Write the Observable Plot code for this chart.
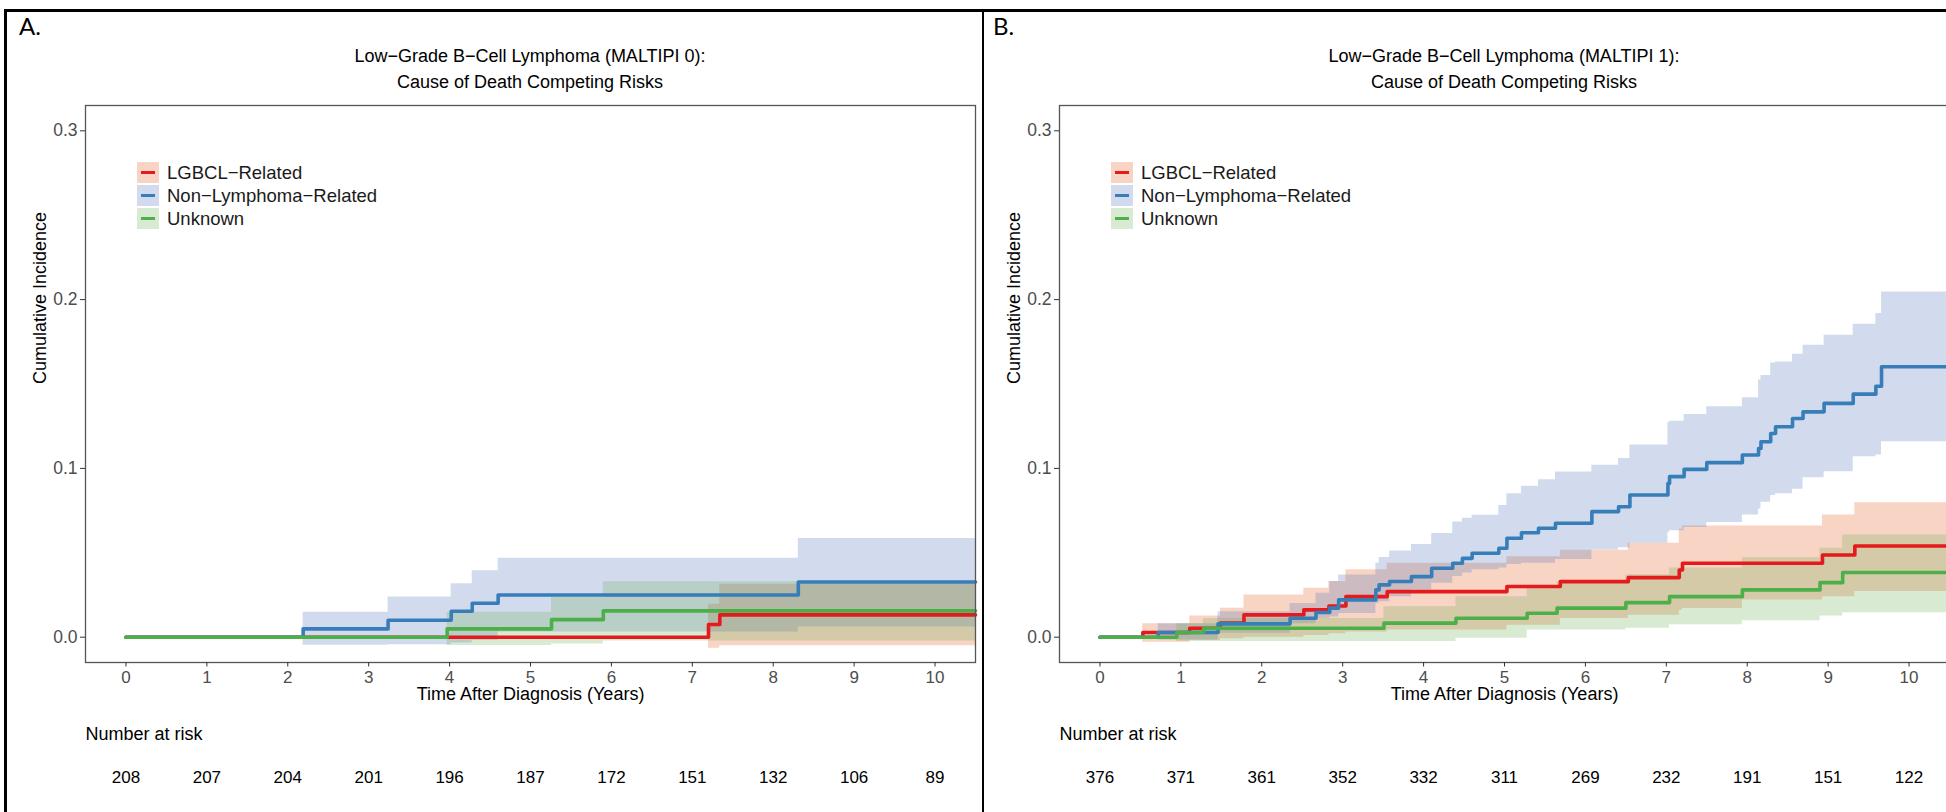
<!DOCTYPE html>
<html><head><meta charset="utf-8">
<script src="https://cdn.jsdelivr.net/npm/d3@7"></script>
<script src="https://cdn.jsdelivr.net/npm/@observablehq/plot@0.6"></script>
<style>
html,body{margin:0;padding:0;background:#fff;}
body{width:1946px;height:812px;overflow:hidden;position:relative;font-family:"Liberation Sans",Arial,sans-serif;}
.panel{position:absolute;top:0;width:983px;height:812px;}
.title{position:absolute;left:85px;width:890px;top:43px;text-align:center;font-size:18px;line-height:26px;color:#000;}
.tag{position:absolute;left:19px;top:11px;font-family:Lato,"Open Sans",sans-serif;font-size:24px;color:#000;}
.chart{position:absolute;left:0;top:95px;}
.legend{position:absolute;left:137px;top:162px;}
.li{height:23px;position:relative;}
.sw{position:absolute;left:0;top:0;width:22px;height:21px;}
.sw i{position:absolute;left:4px;right:4px;top:9px;height:3.3px;display:block;}
.lt{position:absolute;left:30px;top:0;font-size:18.5px;line-height:21px;white-space:nowrap;color:#1a1a1a;}
.bar{position:absolute;background:#000;}
</style>
</head><body>
<div class="bar" style="left:4px;top:9px;width:1942px;height:2.5px"></div>
<div class="bar" style="left:4px;top:9px;width:2.5px;height:803px"></div>
<div class="bar" style="left:982px;top:9px;width:2px;height:803px"></div>
<script>
// ---------- shared ----------
const timeTicks = [0,1,2,3,4,5,6,7,8,9,10];
const yTicks = [0, 0.1, 0.2, 0.3];
const causes = ["LGBCL\u2212Related", "Non\u2212Lymphoma\u2212Related", "Unknown"];
const lineColors = ["#E41A1C", "#377EB8", "#4DAF4A"];
const bandColors = ["#E35313", "#4B6FBB", "#67AB4F"];

// ---------- Panel A (MALTIPI 0) ----------
const A_title = ["Low\u2212Grade B\u2212Cell Lymphoma (MALTIPI 0):", "Cause of Death Competing Risks"];
const A_risk = [208, 207, 204, 201, 196, 187, 172, 151, 132, 106, 89];

const A_red_t   = [0, 7.20, 7.34, 10.5];
const A_red_est = [0, 0.0075, 0.0132, 0.0132];
const A_red_lo  = [0, -0.0065, -0.0051, -0.0051];
const A_red_hi  = [0, 0.0195, 0.0313, 0.0313];

const A_blue_t   = [0, 2.19, 3.24, 4.02, 4.28, 4.60, 8.31, 10.5];
const A_blue_est = [0, 0.0049, 0.0100, 0.0154, 0.0201, 0.0250, 0.0327, 0.0327];
const A_blue_lo  = [0, -0.0048, -0.0045, -0.0035, -0.0020, 0.0030, 0.0060, 0.0060];
const A_blue_hi  = [0, 0.0148, 0.0238, 0.0317, 0.0394, 0.0467, 0.0585, 0.0585];

const A_green_t   = [0, 3.97, 5.26, 5.90, 10.5];
const A_green_est = [0, 0.0049, 0.0104, 0.0156, 0.0156];
const A_green_lo  = [0, -0.0049, -0.0040, -0.0022, -0.0022];
const A_green_hi  = [0, 0.0148, 0.0238, 0.0329, 0.0329];

// ---------- Panel B (MALTIPI 1) ----------
const B_title = ["Low\u2212Grade B\u2212Cell Lymphoma (MALTIPI 1):", "Cause of Death Competing Risks"];
const B_risk = [376, 371, 361, 352, 332, 311, 269, 232, 191, 151, 122];

const B_red_t   = [0, 0.53, 1.11, 1.49, 1.78, 2.52, 2.83, 3.04, 3.55, 5.03, 5.69, 6.53, 7.16, 7.20, 7.94, 8.93, 9.33, 10.5];
const B_red_est = [0, 0.0028, 0.0053, 0.0083, 0.0132, 0.0162, 0.0185, 0.0240, 0.0270, 0.0300, 0.0329, 0.0353, 0.0398, 0.0438, 0.0438, 0.0487, 0.0540, 0.0540];
const B_red_lo  = [0, -0.0030, -0.0020, -0.0010, 0.0000, 0.0010, 0.0020, 0.0030, 0.0043, 0.0070, 0.0110, 0.0130, 0.0160, 0.0170, 0.0220, 0.0240, 0.0270, 0.0270];
const B_red_hi  = [0, 0.0079, 0.0126, 0.0172, 0.0250, 0.0290, 0.0330, 0.0400, 0.0438, 0.0477, 0.0515, 0.0556, 0.0640, 0.0659, 0.0659, 0.0724, 0.0797, 0.0797];

const B_blue_t   = [0, 0.72, 1.46, 2.35, 2.67, 2.84, 2.95, 3.41, 3.45, 3.58, 3.85, 4.10, 4.36, 4.48, 4.60, 4.93, 5.03, 5.21, 5.42, 5.63, 6.08, 6.41, 6.55, 7.02, 7.04, 7.22, 7.50, 7.94, 8.14, 8.17, 8.29, 8.35, 8.56, 8.69, 8.95, 9.31, 9.59, 9.66, 10.5];
const B_blue_est = [0, 0.0028, 0.0079, 0.0112, 0.0146, 0.0172, 0.0221, 0.0280, 0.0310, 0.0330, 0.0359, 0.0408, 0.0438, 0.0467, 0.0497, 0.0527, 0.0586, 0.0619, 0.0645, 0.0675, 0.0744, 0.0773, 0.0842, 0.0911, 0.0951, 0.0994, 0.1034, 0.1079, 0.1118, 0.1158, 0.1207, 0.1247, 0.1296, 0.1335, 0.1385, 0.1440, 0.1487, 0.1602, 0.1602];
const B_blue_lo  = [0, -0.0016, 0.0024, 0.0080, 0.0110, 0.0120, 0.0140, 0.0200, 0.0210, 0.0240, 0.0280, 0.0320, 0.0360, 0.0380, 0.0400, 0.0410, 0.0430, 0.0438, 0.0438, 0.0460, 0.0517, 0.0530, 0.0556, 0.0620, 0.0630, 0.0650, 0.0680, 0.0724, 0.0760, 0.0800, 0.0840, 0.0850, 0.0876, 0.0945, 0.0980, 0.1069, 0.1080, 0.1158, 0.1158];
const B_blue_hi  = [0, 0.0080, 0.0150, 0.0200, 0.0260, 0.0330, 0.0368, 0.0440, 0.0472, 0.0510, 0.0549, 0.0614, 0.0683, 0.0705, 0.0722, 0.0780, 0.0850, 0.0894, 0.0933, 0.0978, 0.1018, 0.1059, 0.1138, 0.1272, 0.1280, 0.1320, 0.1365, 0.1418, 0.1523, 0.1550, 0.1625, 0.1630, 0.1677, 0.1730, 0.1789, 0.1854, 0.1917, 0.2045, 0.2045];

const B_green_t   = [0, 0.95, 1.28, 3.51, 4.40, 5.28, 5.65, 6.50, 7.04, 7.94, 8.90, 9.18, 10.5];
const B_green_est = [0, 0.0028, 0.0053, 0.0083, 0.0112, 0.0142, 0.0172, 0.0205, 0.0240, 0.0280, 0.0323, 0.0383, 0.0383];
const B_green_lo  = [0, -0.0026, -0.0026, -0.0026, -0.0006, 0.0043, 0.0043, 0.0053, 0.0073, 0.0098, 0.0126, 0.0145, 0.0145];
const B_green_hi  = [0, 0.0080, 0.0110, 0.0180, 0.0240, 0.0290, 0.0330, 0.0370, 0.0410, 0.0470, 0.0527, 0.0606, 0.0606];

function rows(t, est, lo, hi) {
  return t.map((d, i) => ({t: d, est: est[i], lo: lo[i], hi: hi[i]}));
}

function makePanel(left, tag, title, risk, series) {
  const panel = document.createElement("div");
  panel.className = "panel";
  panel.style.left = left + "px";
  document.body.appendChild(panel);

  const tg = document.createElement("div");
  tg.className = "tag"; tg.textContent = tag;
  panel.appendChild(tg);

  const ti = document.createElement("div");
  ti.className = "title"; ti.innerHTML = title.join("<br>");
  panel.appendChild(ti);

  const marks = [];
  series.forEach((s, i) => {
    marks.push(Plot.areaY(s, {x: "t", y1: "lo", y2: "hi", curve: "step-after", fill: bandColors[i], fillOpacity: 0.25}));
  });
  series.forEach((s, i) => {
    marks.push(Plot.lineY(s, {x: "t", y: "est", curve: "step-after", stroke: lineColors[i], strokeWidth: 3.6}));
  });
  marks.push(Plot.frame({stroke: "#555", strokeWidth: 1.3}));
  marks.push(Plot.axisX({ticks: timeTicks, tickSize: 4.5, tickPadding: 4, stroke: "#333", fill: "#4D4D4D", fontSize: 17, label: null, tickFormat: d3.format("d")}));
  marks.push(Plot.axisY({ticks: yTicks, tickSize: 5, tickPadding: 3, stroke: "#333", fill: "#4D4D4D", fontSize: 17.5, label: null, tickFormat: d3.format(".1f")}));
  marks.push(Plot.text(["Time After Diagnosis (Years)"], {frameAnchor: "bottom", dy: 37, fontSize: 18, fill: "#000"}));
  marks.push(Plot.text(["Cumulative Incidence"], {frameAnchor: "left", rotate: -90, dx: -45, fontSize: 18, fill: "#000"}));
  marks.push(Plot.text(["Number at risk"], {frameAnchor: "bottom-left", textAnchor: "start", dy: 77, fontSize: 18, fill: "#000"}));
  marks.push(Plot.text(timeTicks, {x: d => d, text: (d, i) => risk[i], frameAnchor: "bottom", dy: 120, fontSize: 17, fill: "#000"}));

  const chart = Plot.plot({
    width: 983, height: 717,
    marginLeft: 85, marginRight: 8, marginTop: 10, marginBottom: 150,
    x: {domain: [-0.5, 10.5]},
    y: {domain: [-0.015, 0.315]},
    style: {fontFamily: "'Liberation Sans', Arial, sans-serif", fontSize: "17px", background: "transparent", overflow: "visible"},
    marks
  });
  chart.classList.add("chart");
  panel.appendChild(chart);

  const lg = document.createElement("div");
  lg.className = "legend";
  causes.forEach((c, i) => {
    const li = document.createElement("div"); li.className = "li";
    const sw = document.createElement("div"); sw.className = "sw";
    sw.style.background = d3.interpolateRgb("#fff", bandColors[i])(0.25);
    const ln = document.createElement("i"); ln.style.background = lineColors[i];
    sw.appendChild(ln);
    const lt = document.createElement("div"); lt.className = "lt"; lt.textContent = c;
    li.appendChild(sw); li.appendChild(lt);
    lg.appendChild(li);
  });
  panel.appendChild(lg);
}

makePanel(0, "A.", A_title, A_risk, [
  rows(A_red_t, A_red_est, A_red_lo, A_red_hi),
  rows(A_blue_t, A_blue_est, A_blue_lo, A_blue_hi),
  rows(A_green_t, A_green_est, A_green_lo, A_green_hi)
]);
makePanel(974, "B.", B_title, B_risk, [
  rows(B_red_t, B_red_est, B_red_lo, B_red_hi),
  rows(B_blue_t, B_blue_est, B_blue_lo, B_blue_hi),
  rows(B_green_t, B_green_est, B_green_lo, B_green_hi)
]);
</script>
</body></html>
